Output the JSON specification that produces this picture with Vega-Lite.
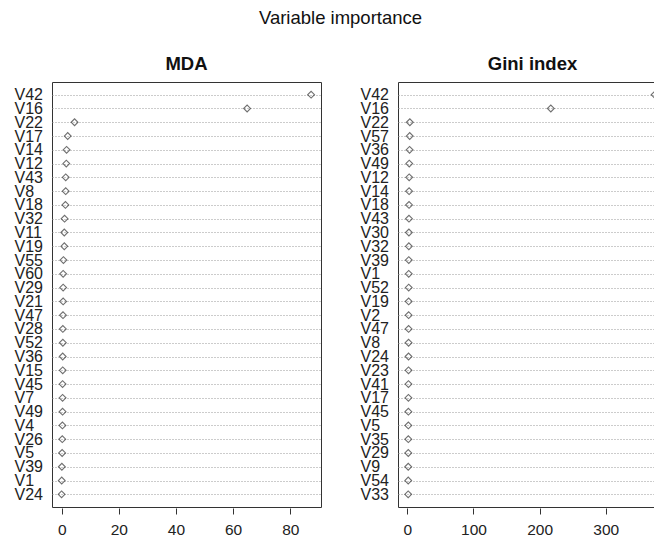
{
  "$schema": "https://vega.github.io/schema/vega-lite/v6.json",
  "padding": {"left": 13, "top": 8, "right": 0, "bottom": 0},
  "background": "white",
  "title": {"text": "Variable importance", "fontSize": 18.5, "fontWeight": "normal", "font": "Liberation Sans", "color": "#111", "anchor": "middle", "baseline": "alphabetic", "offset": 12},
  "datasets": {
    "mda": [
      {"var": "V42", "value": 87.3}, {"var": "V16", "value": 64.9}, {"var": "V22", "value": 4.5},
      {"var": "V17", "value": 2.1}, {"var": "V14", "value": 1.7}, {"var": "V12", "value": 1.6},
      {"var": "V43", "value": 1.4}, {"var": "V8", "value": 1.4}, {"var": "V18", "value": 1.3},
      {"var": "V32", "value": 1.0}, {"var": "V11", "value": 0.9}, {"var": "V19", "value": 0.9},
      {"var": "V55", "value": 0.6}, {"var": "V60", "value": 0.5}, {"var": "V29", "value": 0.5},
      {"var": "V21", "value": 0.5}, {"var": "V47", "value": 0.45}, {"var": "V28", "value": 0.4},
      {"var": "V52", "value": 0.4}, {"var": "V36", "value": 0.35}, {"var": "V15", "value": 0.35},
      {"var": "V45", "value": 0.3}, {"var": "V7", "value": 0.3}, {"var": "V49", "value": 0.3},
      {"var": "V4", "value": 0.25}, {"var": "V26", "value": 0.2}, {"var": "V5", "value": 0.15},
      {"var": "V39", "value": 0.05}, {"var": "V1", "value": 0.0}, {"var": "V24", "value": -0.05}
    ],
    "gini": [
      {"var": "V42", "value": 374}, {"var": "V16", "value": 217}, {"var": "V22", "value": 3.8},
      {"var": "V57", "value": 3.6}, {"var": "V36", "value": 3.4}, {"var": "V49", "value": 2.9},
      {"var": "V12", "value": 2.8}, {"var": "V14", "value": 2.7}, {"var": "V18", "value": 2.6},
      {"var": "V43", "value": 2.5}, {"var": "V30", "value": 2.4}, {"var": "V32", "value": 2.3},
      {"var": "V39", "value": 2.2}, {"var": "V1", "value": 2.15}, {"var": "V52", "value": 2.1},
      {"var": "V19", "value": 2.05}, {"var": "V2", "value": 2.0}, {"var": "V47", "value": 1.95},
      {"var": "V8", "value": 1.9}, {"var": "V24", "value": 1.85}, {"var": "V23", "value": 1.8},
      {"var": "V41", "value": 1.7}, {"var": "V17", "value": 1.65}, {"var": "V45", "value": 1.6},
      {"var": "V5", "value": 1.55}, {"var": "V35", "value": 1.5}, {"var": "V29", "value": 1.45},
      {"var": "V9", "value": 1.4}, {"var": "V54", "value": 1.35}, {"var": "V33", "value": 1.3}
    ]
  },
  "config": {
    "font": "Liberation Sans",
    "view": {"stroke": "#333", "strokeWidth": 1},
    "concat": {"spacing": 37},
    "axis": {"labelFont": "Liberation Sans", "labelColor": "#222", "title": null}
  },
  "hconcat": [
    {
      "title": {"text": "MDA", "fontSize": 18.5, "fontWeight": "bold", "font": "Liberation Sans", "color": "#111", "baseline": "bottom", "offset": -10},
      "data": {"name": "mda"},
      "width": 269,
      "height": 425,
      "mark": {"type": "point", "shape": "diamond", "filled": false, "size": 46, "strokeWidth": 1.1, "color": "#333"},
      "encoding": {
        "y": {"field": "var", "type": "nominal", "sort": null,
          "scale": {"type": "point", "padding": 0.92},
          "axis": {"title": null, "ticks": false, "domain": false, "labelAlign": "left", "labelPadding": 38, "labelFontSize": 16, "labelBaseline": "middle", "labelDy": 2,
            "grid": true, "gridDash": [1, 2], "gridColor": "#999", "gridWidth": 1}},
        "x": {"field": "value", "type": "quantitative",
          "scale": {"domain": [-3.4, 90.76], "nice": false, "zero": false},
          "axis": {"title": null, "values": [0, 20, 40, 60, 80], "grid": false, "domain": false, "offset": 1, "tickSize": 6, "tickColor": "#333", "labelFontSize": 15.5, "labelPadding": 8}}
      }
    },
    {
      "title": {"text": "Gini index", "fontSize": 18.5, "fontWeight": "bold", "font": "Liberation Sans", "color": "#111", "baseline": "bottom", "offset": -10},
      "data": {"name": "gini"},
      "width": 269,
      "height": 425,
      "mark": {"type": "point", "shape": "diamond", "filled": false, "size": 46, "strokeWidth": 1.1, "color": "#333"},
      "encoding": {
        "y": {"field": "var", "type": "nominal", "sort": null,
          "scale": {"type": "point", "padding": 0.92},
          "axis": {"title": null, "ticks": false, "domain": false, "labelAlign": "left", "labelPadding": 38, "labelFontSize": 16, "labelBaseline": "middle", "labelDy": 2,
            "grid": true, "gridDash": [1, 2], "gridColor": "#999", "gridWidth": 1}},
        "x": {"field": "value", "type": "quantitative",
          "scale": {"domain": [-14.1, 392.7], "nice": false, "zero": false},
          "axis": {"title": null, "values": [0, 100, 200, 300], "grid": false, "domain": false, "offset": 1, "tickSize": 6, "tickColor": "#333", "labelFontSize": 15.5, "labelPadding": 8}}
      }
    }
  ]
}
